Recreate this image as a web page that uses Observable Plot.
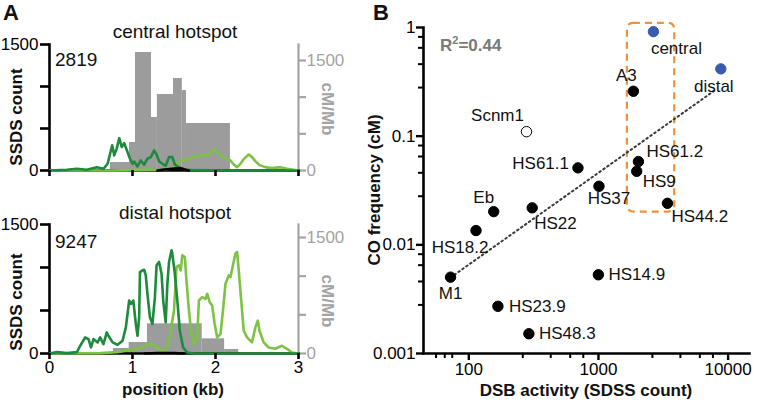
<!DOCTYPE html>
<html><head><meta charset="utf-8">
<script src="https://cdn.jsdelivr.net/npm/d3@7"></script>
<script src="https://cdn.jsdelivr.net/npm/@observablehq/plot@0.6"></script>
<style>
html,body{margin:0;padding:0;background:#fff;}
#root{position:relative;width:766px;height:403px;overflow:hidden;font-family:"Liberation Sans",Arial,sans-serif;background:#fff;}
#root svg{position:absolute;overflow:visible;}
.t{position:absolute;white-space:nowrap;line-height:1;}
sup{font-size:0.65em;vertical-align:0.55em;line-height:0;}
</style></head><body><div id="root"></div><script>
// ---------- DATA: panel A (SSDS count profiles, position in kb) ----------
const posTicks = [0, 1, 2, 3];
const ssdsTicks = [0, 500, 1000, 1500];
const ssdsTickLabels = ["0", "", "", "1500"];
const cmTicks = [0, 500, 1000, 1500];
const cmTickLabels = ["0", "", "", "1500"];

// central hotspot
const centralTotal = "2819";
const centralBinStart = [0.735, 0.964, 1.036, 1.229, 1.30, 1.494, 1.60, 1.65];
const centralBinEnd   = [0.964, 1.036, 1.229, 1.30, 1.494, 1.60, 1.65, 2.18];
const centralCMMb     = [109, 382, 1609, 723, 1036, 1255, 1090, 641];
const centralDarkPos = [0,0.21,0.33,0.45,0.57,0.65,0.70,0.73,0.755,0.78,0.81,0.84,0.87,0.90,0.94,0.97,1.00,1.02,1.06,1.10,1.14,1.18,1.22,1.26,1.29,1.32,1.36,1.40,1.44,1.48,1.51,1.55,1.60,1.68,2.22,3.0];
const centralDarkCount = [0,8,20,8,40,20,80,200,300,180,260,385,280,325,220,140,80,107,48,120,68,140,160,238,190,111,80,56,159,159,71,40,20,4,0,0];
const centralLightPos = [0,0.735,1.02,1.34,1.46,1.50,1.54,1.58,1.62,1.67,1.72,1.78,1.84,1.88,1.93,2.00,2.04,2.08,2.13,2.18,2.22,2.26,2.30,2.34,2.40,2.44,2.48,2.53,2.60,2.68,2.78,2.86,2.94,3.0];
const centralLightCount = [0,0,5,10,20,50,87,119,135,127,159,167,190,171,206,246,190,159,143,119,71,40,79,135,190,159,111,64,40,28,40,20,8,0];
const centralBlackPos = [1.30,1.38,1.45,1.52,1.58,1.64,1.68];
const centralBlackCount = [0,12,18,25,28,10,0];

// distal hotspot
const distalTotal = "9247";
const distalBinStart = [0.77, 0.96, 1.18, 1.84, 2.11];
const distalBinEnd   = [0.96, 1.18, 1.84, 2.11, 2.28];
const distalCMMb     = [65, 142, 384, 190, 52];
const distalDarkPos = [0,0.09,0.21,0.33,0.37,0.43,0.47,0.50,0.53,0.58,0.61,0.65,0.69,0.71,0.76,0.82,0.88,0.92,0.96,0.98,1.01,1.04,1.06,1.08,1.09,1.12,1.14,1.16,1.18,1.21,1.24,1.27,1.29,1.32,1.35,1.37,1.40,1.42,1.44,1.47,1.48,1.51,1.54,1.57,1.61,1.66,1.74,3.0];
const distalDarkCount = [0,16,4,16,90,187,168,70,168,129,187,109,245,206,129,101,148,304,616,577,616,343,206,421,947,966,974,908,693,421,343,655,1025,1064,927,616,362,810,1064,1200,1161,927,616,265,70,12,0,0];
const distalLightPos = [0,0.61,0.82,0.94,1.06,1.18,1.24,1.30,1.36,1.42,1.46,1.50,1.53,1.56,1.58,1.60,1.63,1.65,1.68,1.71,1.74,1.78,1.80,1.84,1.88,1.90,1.93,1.96,1.99,2.02,2.06,2.09,2.12,2.16,2.18,2.21,2.24,2.26,2.28,2.31,2.34,2.38,2.44,2.48,2.51,2.53,2.58,2.64,2.72,2.80,2.86,2.92,3.0];
const distalLightCount = [0,4,16,39,51,101,109,62,23,70,265,499,1005,1025,966,1142,1122,849,499,226,109,187,616,655,635,693,596,557,343,187,226,499,810,908,888,1025,1161,1180,966,616,265,187,129,304,382,265,129,70,55,90,55,12,0];
const distalBlackPos = [1.15,1.30,1.50,1.62];
const distalBlackCount = [0,5,5,0];

// ---------- DATA: panel B ----------
const hotspotNames = ["central","distal","A3","Scnm1","HS61.2","HS9","HS61.1","HS37","HS44.2","Eb","HS22","HS18.2","M1","HS14.9","HS23.9","HS48.3"];
const dsbActivity  = [2850, 9430, 1997, 299, 2183, 2118, 746, 1083, 3655, 167, 331, 122, 77.6, 1072, 180, 312];
const coFrequency  = [0.916, 0.416, 0.259, 0.110, 0.0584, 0.0475, 0.0511, 0.0346, 0.0241, 0.0202, 0.0219, 0.01354, 0.00504, 0.0053, 0.00272, 0.00152];
const hotspotKind  = ["this","this","fit","excluded","fit","fit","fit","fit","fit","fit","fit","fit","fit","fit","fit","fit"];
const trendDSB = [77.6, 8630];
const trendCO  = [0.005, 0.268];
const boxDSB = [1795, 4160];
const boxCO  = [0.020, 1.093];
const rSquared = "0.44";
const dsbMajorTicks = [100, 1000, 10000];
const dsbMajorLabels = ["100", "1000", "10000"];
const dsbMinorTicks = [60, 70, 80, 280, 460, 650, 820, 2800, 4600, 6500, 8200];
const coMajorTicks = [0.001, 0.01, 0.1, 1];
const coMajorLabels = ["0.001", "0.01", "0.1", "1"];
const coMinorTicks = [0.0028, 0.0046, 0.0065, 0.0082, 0.028, 0.046, 0.065, 0.082, 0.28, 0.46, 0.65, 0.82];

// ---------- STYLE / LAYOUT ----------
const FONT = '"Liberation Sans", Arial, sans-serif';
const DARK = "#1d8a3c", LIGHT = "#7cc243", BAR = "#9c9c9c", AXGRAY = "#a3a3a3";
const BLUE = "#3a5aae", ORANGE = "#f09235";
const root = document.getElementById("root");
const zip = (xs, ys) => xs.map((x, i) => ({x, y: ys[i]}));
const place = (el, left, top) => { el.style.left = left + "px"; el.style.top = top + "px"; root.appendChild(el); };

function panelA(cfg) {
  const common = {
    width: 380, height: cfg.height, marginLeft: 49, marginRight: 82,
    marginTop: cfg.mT, marginBottom: cfg.mB,
    style: {background: "transparent", fontFamily: FONT, fontSize: "17px", overflow: "visible"}
  };
  const bins = cfg.binStart.map((s, i) => ({x1: s, x2: cfg.binEnd[i], v: cfg.cm[i]}));
  const bars = Plot.plot({
    ...common,
    x: {domain: [0, 3], axis: null},
    y: {domain: [0, cfg.cmMax]},
    marks: [
      Plot.rect(bins, {x1: "x1", x2: "x2", y1: 0, y2: "v", fill: BAR}),
      Plot.frame({anchor: "right", stroke: AXGRAY, strokeWidth: 2.2}),
      Plot.axisY({anchor: "right", ticks: cmTicks, tickFormat: d => cmTickLabels[cmTicks.indexOf(d)],
        tickSize: 7, tickPadding: 1, color: AXGRAY, strokeWidth: 2.2, label: null, fontSize: 17})
    ]
  });
  const lines = Plot.plot({
    ...common,
    x: {domain: [0, 3]},
    y: {domain: [0, 1500]},
    marks: [
      Plot.frame({anchor: "left", strokeWidth: 2.6}),
      Plot.frame({anchor: "bottom", strokeWidth: 2.6}),
      Plot.line(zip(cfg.lightPos, cfg.lightCount), {x: "x", y: "y", stroke: LIGHT, strokeWidth: 2.6}),
      Plot.line(zip(cfg.darkPos, cfg.darkCount), {x: "x", y: "y", stroke: DARK, strokeWidth: 2.6}),
      Plot.line(zip(cfg.blackPos, cfg.blackCount), {x: "x", y: "y", stroke: "#000", strokeWidth: 2.6}),
      Plot.axisY({ticks: ssdsTicks, tickFormat: d => ssdsTickLabels[ssdsTicks.indexOf(d)],
        tickSize: 9, tickPadding: 2, strokeWidth: 2.6, label: null, fontSize: 17}),
      Plot.axisX({ticks: posTicks, tickFormat: cfg.xLabels ? d => String(d) : () => "",
        tickSize: 6, tickPadding: 1, strokeWidth: 2.6, label: null, fontSize: 17})
    ]
  });
  place(bars, 0, cfg.top);
  place(lines, 0, cfg.top);
}

panelA({top: 0, height: 200, mT: 44, mB: 30, cmMax: 1718,
  binStart: centralBinStart, binEnd: centralBinEnd, cm: centralCMMb,
  darkPos: centralDarkPos, darkCount: centralDarkCount,
  lightPos: centralLightPos, lightCount: centralLightCount,
  blackPos: centralBlackPos, blackCount: centralBlackCount, xLabels: false});
panelA({top: 190, height: 213, mT: 34, mB: 50, cmMax: 1668,
  binStart: distalBinStart, binEnd: distalBinEnd, cm: distalCMMb,
  darkPos: distalDarkPos, darkCount: distalDarkCount,
  lightPos: distalLightPos, lightCount: distalLightCount,
  blackPos: distalBlackPos, blackCount: distalBlackCount, xLabels: true});

// ---------- panel B ----------
const pts = hotspotNames.map((n, i) => ({name: n, dsb: dsbActivity[i], co: coFrequency[i], kind: hotspotKind[i]}));
const labelPlacement = {
  "central": [23, 17, "middle"], "distal": [-7, 18, "middle"], "A3": [-7, -16, "middle"],
  "Scnm1": [-29, -16, "middle"], "HS61.2": [8, -10, "start"], "HS9": [6, 10, "start"],
  "HS61.1": [-9, -4, "end"], "HS37": [10, 12, "middle"], "HS44.2": [4, 13, "start"],
  "Eb": [-10, -14, "middle"], "HS22": [2, 16, "start"], "HS18.2": [-16, 17, "middle"],
  "M1": [0, 16, "middle"], "HS14.9": [10, 0, "start"], "HS23.9": [11, 0, "start"], "HS48.3": [10, 0, "start"]
};
const fillOf = k => k === "this" ? BLUE : k === "excluded" ? "#fff" : "#000";
const strokeOf = k => k === "this" ? BLUE : "#000";
const plotB = Plot.plot({
  width: 386, height: 403, marginLeft: 43, marginRight: 17, marginTop: 27, marginBottom: 50,
  style: {background: "transparent", fontFamily: FONT, fontSize: "17px", overflow: "visible"},
  x: {type: "log", domain: [48, 15700]},
  y: {type: "log", domain: [0.001, 1]},
  marks: [
    Plot.frame({anchor: "left", strokeWidth: 2.6}),
    Plot.frame({anchor: "bottom", strokeWidth: 2.6}),
    Plot.axisX({ticks: dsbMajorTicks, tickFormat: d => dsbMajorLabels[dsbMajorTicks.indexOf(d)],
      tickSize: 7, tickPadding: 2, strokeWidth: 2.4, label: null, fontSize: 17, dx: 4}),
    Plot.axisX({ticks: dsbMinorTicks, tickFormat: () => "", tickSize: 5, strokeWidth: 2, label: null}),
    Plot.axisY({ticks: coMajorTicks, tickFormat: d => coMajorLabels[coMajorTicks.indexOf(d)],
      tickSize: 7, tickPadding: 1, strokeWidth: 2.4, label: null, fontSize: 17}),
    Plot.axisY({ticks: coMinorTicks, tickFormat: () => "", tickSize: 5, strokeWidth: 2, label: null}),
    Plot.rect([{x1: boxDSB[0], x2: boxDSB[1], y1: boxCO[0], y2: boxCO[1]}],
      {x1: "x1", x2: "x2", y1: "y1", y2: "y2", fill: "none", stroke: ORANGE, strokeWidth: 2.2, strokeDasharray: "7,5", rx: 6}),
    Plot.line(zip(trendDSB, trendCO), {x: "x", y: "y", stroke: "#3a3a3a", strokeWidth: 2, strokeDasharray: "1.6,3.2"}),
    Plot.dot(pts, {x: "dsb", y: "co", r: 5.2, fill: d => fillOf(d.kind), stroke: d => strokeOf(d.kind), strokeWidth: 1}),
    ...pts.map(p => {
      const [dx, dy, anchor] = labelPlacement[p.name];
      return Plot.text([p], {x: "dsb", y: "co", text: "name", dx, dy, textAnchor: anchor, fontSize: 17, fill: "#111"});
    })
  ]
});
place(plotB, 380, 0);

// ---------- HTML texts ----------
function txt(html, cx, cy, o = {}) {
  const d = document.createElement("div");
  d.className = "t";
  d.innerHTML = html;
  d.style.fontSize = (o.size || 17) + "px";
  d.style.fontWeight = o.bold ? "bold" : "normal";
  d.style.color = o.color || "#111";
  const anchorX = o.left ? "0" : "-50%";
  d.style.transform = `translate(${anchorX},-50%)` + (o.rot ? ` rotate(${o.rot}deg)` : "");
  place(d, cx, cy);
}
txt("A", 11, 13, {size: 22, bold: true});
txt("B", 381, 13, {size: 22, bold: true});
txt("central hotspot", 175, 31, {size: 19});
txt("distal hotspot", 175, 212, {size: 19});
txt(centralTotal, 55, 59, {size: 19, left: true});
txt(distalTotal, 55, 241, {size: 19, left: true});
txt("SSDS count", 16, 117, {bold: true, rot: -90});
txt("SSDS count", 16, 302, {bold: true, rot: -90});
txt("cM/Mb", 327, 109, {bold: true, rot: 90, color: AXGRAY});
txt("cM/Mb", 327, 301, {bold: true, rot: 90, color: AXGRAY});
txt("position (kb)", 173, 389, {bold: true});
txt("CO frequency (cM)", 374, 190, {bold: true, rot: -90});
txt("DSB activity (SDSS count)", 586, 390, {bold: true});
txt("R<sup>2</sup>=" + rSquared, 440, 45, {bold: true, color: "#7a7a7a", left: true});
</script></body></html>
